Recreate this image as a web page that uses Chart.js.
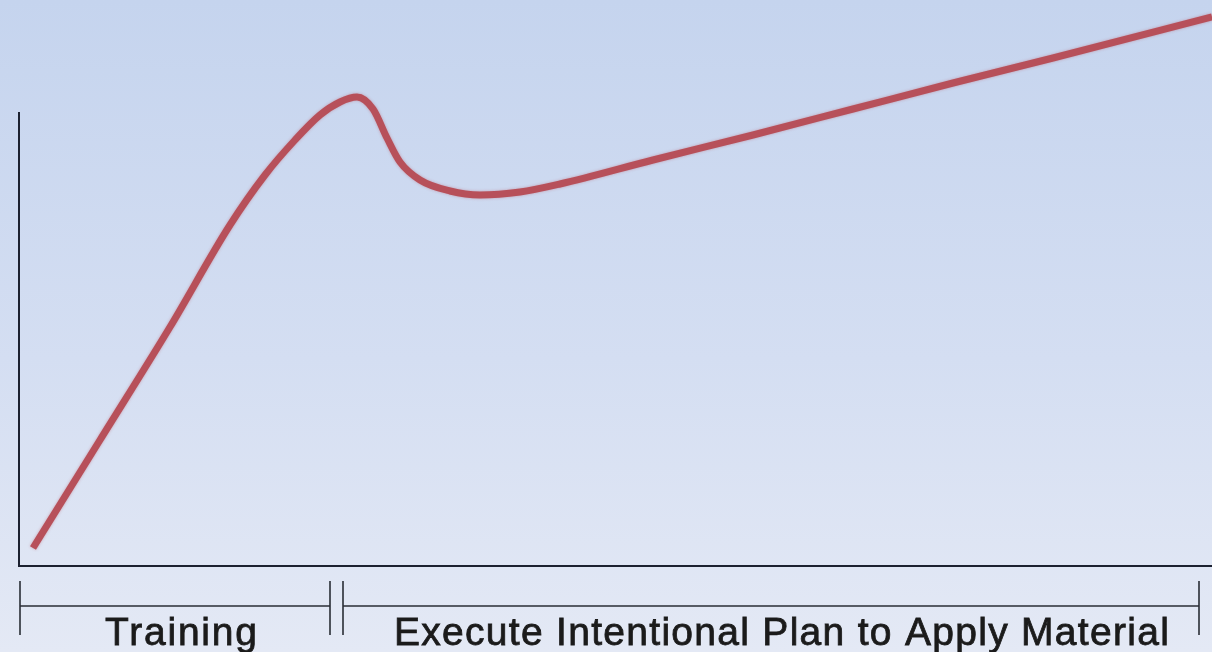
<!DOCTYPE html>
<html>
<head>
<meta charset="utf-8">
<title>Training curve</title>
<script src="https://cdn.jsdelivr.net/npm/chart.js@4.4.1/dist/chart.umd.min.js"></script>
<style>
  html, body { margin: 0; padding: 0; background: #dfe6f4; }
  #curveChart { display: block; }
</style>
</head>
<body>
<canvas id="curveChart" width="1212" height="652"></canvas>
<script>
// performance curve (x = time, y = level)
const progressX = [14, 81, 151, 211, 246, 276, 301, 321, 338, 354, 368, 381, 401, 431, 461, 501, 541, 634, 734, 834, 934, 1034, 1193];
const progressY = [18, 126, 239, 341, 391, 426, 451, 464, 469, 457, 428, 404, 386, 375, 371, 374, 382, 406, 431, 457, 483, 508, 549];

// phases under the x axis
const phaseLabels = ["Training", "Execute Intentional Plan to Apply Material"];
const phaseStart = [1, 324];
const phaseEnd = [311, 1180];

const axisTop = 454; // y axis is drawn up to this level

const backgroundPlugin = {
  id: "backgroundPlugin",
  beforeDraw(chart) {
    const { ctx, width, height } = chart;
    const grad = ctx.createLinearGradient(0, 0, 0, height);
    grad.addColorStop(0, "#c5d4ee");
    grad.addColorStop(0.55, "#d4def2");
    grad.addColorStop(1, "#e4e9f5");
    ctx.save();
    ctx.fillStyle = grad;
    ctx.fillRect(0, 0, width, height);
    ctx.restore();
  },
  beforeDatasetsDraw(chart) {
    // soft edge on the curve like the original
    chart.ctx.save();
    chart.ctx.shadowColor = "rgba(183, 80, 90, 0.45)";
    chart.ctx.shadowBlur = 3;
  },
  afterDatasetsDraw(chart) {
    chart.ctx.restore();
  },
};

const axesPlugin = {
  id: "axesPlugin",
  afterDatasetsDraw(chart) {
    const { ctx } = chart;
    const xs = chart.scales.x;
    const ys = chart.scales.y;
    const x0 = xs.getPixelForValue(0);
    const y0 = ys.getPixelForValue(0);

    ctx.save();
    ctx.strokeStyle = "#1c2130";
    ctx.lineWidth = 2;
    ctx.beginPath();
    ctx.moveTo(x0, ys.getPixelForValue(axisTop));
    ctx.lineTo(x0, y0);
    ctx.lineTo(xs.getPixelForValue(xs.max) + 2, y0);
    ctx.stroke();

    // phase brackets
    ctx.strokeStyle = "#2a2e36";
    ctx.lineWidth = 1.6;
    const bracketY = y0 + 40;
    phaseLabels.forEach((label, i) => {
      const a = xs.getPixelForValue(phaseStart[i]);
      const b = xs.getPixelForValue(phaseEnd[i]);
      ctx.beginPath();
      ctx.moveTo(a, bracketY - 25);
      ctx.lineTo(a, bracketY + 29);
      ctx.moveTo(b, bracketY - 25);
      ctx.lineTo(b, bracketY + 29);
      ctx.moveTo(a, bracketY);
      ctx.lineTo(b, bracketY);
      ctx.stroke();
    });

    // phase labels, spaced out like the original
    ctx.fillStyle = "#1b1b1b";
    ctx.strokeStyle = "#1b1b1b";
    ctx.lineWidth = 0.8;
    ctx.font = "39px 'Liberation Sans', Arial, sans-serif";
    ctx.textBaseline = "alphabetic";
    ctx.textAlign = "left";
    const targets = [
      { left: 105, width: 152 },
      { left: 394, width: 775 },
    ];
    phaseLabels.forEach((label, i) => {
      ctx.letterSpacing = "0px";
      const w = ctx.measureText(label).width;
      const sp = Math.max(0, (targets[i].width - w) / (label.length - 1));
      ctx.letterSpacing = sp.toFixed(2) + "px";
      ctx.fillText(label, targets[i].left, y0 + 79);
      ctx.strokeText(label, targets[i].left, y0 + 79);
    });
    ctx.restore();
  },
};

const ctx = document.getElementById("curveChart");

new Chart(ctx, {
  type: "line",
  data: {
    datasets: [
      {
        label: "Performance",
        data: progressX.map((x, i) => ({ x: x, y: progressY[i] })),
        borderColor: "#b7505a",
        borderWidth: 7,
        pointRadius: 0,
        cubicInterpolationMode: "monotone",
        fill: false,
        clip: false,
      },
    ],
  },
  options: {
    responsive: false,
    devicePixelRatio: 1,
    animation: false,
    layout: { padding: { left: 19, right: 0, top: 0, bottom: 86 } },
    plugins: {
      legend: { display: false },
      title: { display: false },
      tooltip: { enabled: false },
    },
    scales: {
      x: { type: "linear", min: 0, max: 1193, display: false },
      y: { type: "linear", min: 0, max: 566, display: false },
    },
  },
  plugins: [backgroundPlugin, axesPlugin],
});
</script>
</body>
</html>
